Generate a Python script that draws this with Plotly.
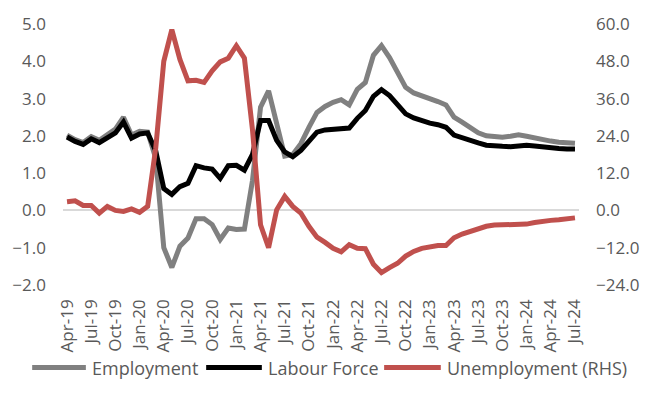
import pandas as pd
import plotly.graph_objects as go

months = pd.date_range("2019-04-01", "2024-07-01", freq="MS").strftime("%b-%y").tolist()

employment = [2.02, 1.90, 1.82, 1.98, 1.88, 2.02, 2.18, 2.50, 2.02, 2.12, 2.10,
              1.40, -1.00, -1.53, -0.96, -0.74, -0.22, -0.22, -0.38, -0.78, -0.47, -0.51,
              -0.50, 0.80, 2.77, 3.21, 2.28, 1.46, 1.50, 1.79, 2.23, 2.63, 2.79,
              2.90, 2.97, 2.83, 3.25, 3.43, 4.16, 4.42, 4.10, 3.70, 3.30, 3.15,
              3.08, 2.99, 2.92, 2.83, 2.50, 2.37, 2.23, 2.08, 2.00, 1.97, 1.96,
              1.99, 2.03, 1.99, 1.94, 1.90, 1.86, 1.83, 1.81, 1.80]

labour_force = [1.97, 1.85, 1.77, 1.92, 1.82, 1.94, 2.08, 2.37, 1.94, 2.05, 2.08,
                1.60, 0.59, 0.43, 0.64, 0.73, 1.20, 1.14, 1.11, 0.86, 1.20, 1.21,
                1.08, 1.50, 2.41, 2.41, 1.88, 1.57, 1.44, 1.61, 1.88, 2.10, 2.16,
                2.17, 2.19, 2.21, 2.47, 2.68, 3.06, 3.24, 3.08, 2.81, 2.59, 2.48,
                2.40, 2.34, 2.30, 2.23, 2.02, 1.94, 1.89, 1.81, 1.75, 1.72, 1.72,
                1.71, 1.73, 1.75, 1.73, 1.70, 1.68, 1.66, 1.65, 1.65]

unemployment = [2.8, 3.1, 1.6, 1.6, -0.85, 1.3, 0.0, -0.3, 0.5, -0.6, 1.3,
                20.0, 48.0, 58.2, 48.6, 41.7, 41.9, 41.2, 44.9, 47.8, 49.0, 53.0,
                49.0, 26.0, -4.6, -12.0, 0.2, 4.5, 1.3, -0.85, -5.1, -8.6, -10.3,
                -12.2, -13.3, -11.0, -12.2, -12.3, -17.3, -20.0, -18.4, -17.0, -14.7, -13.2,
                -12.2, -11.7, -11.3, -11.3, -8.8, -7.6, -6.7, -5.9, -5.1, -4.7, -4.6,
                -4.7, -4.8, -4.4, -3.9, -3.4, -3.2, -3.0, -2.7, -2.4]

tick_labels = months[::3]

series_names = ["Employment", "Labour Force", "Unemployment (RHS)"]
series_colors = ["#808080", "#000000", "#C0504D"]

FONT = "Open Sans"
TXT = "#595959"

fig = go.Figure()
fig.add_trace(go.Scatter(x=months, y=employment, name=series_names[0], mode="lines",
                         line=dict(color=series_colors[0], width=5)))
fig.add_trace(go.Scatter(x=months, y=labour_force, name=series_names[1], mode="lines",
                         line=dict(color=series_colors[1], width=5)))
fig.add_trace(go.Scatter(x=months, y=unemployment, name=series_names[2], mode="lines",
                         line=dict(color=series_colors[2], width=5), yaxis="y2"))

# Custom legend (Excel-style long line samples) in paper coordinates
W, H, L, B = 519.0, 263.2, 62.0, 284.7
leg_y = -(368 - B) / H
leg_items = [(31, 85, 89), (206, 262, 266), (385, 442, 446)]
shapes, annotations = [], []
for (x0, x1, xt), name, col in zip(leg_items, series_names, series_colors):
    shapes.append(dict(type="line", xref="paper", yref="paper",
                       x0=(x0 - L) / W, x1=(x1 - L) / W, y0=leg_y, y1=leg_y,
                       line=dict(color=col, width=5)))
    annotations.append(dict(xref="paper", yref="paper", x=(xt - L) / W, y=leg_y,
                            xanchor="left", yanchor="middle", text=name, showarrow=False,
                            font=dict(family=FONT, size=18, color=TXT)))

fig.update_layout(
    width=651, height=405,
    margin=dict(l=62, r=70, t=21.5, b=120.3),
    paper_bgcolor="white", plot_bgcolor="white",
    font=dict(family=FONT, size=17, color=TXT),
    showlegend=False,
    shapes=shapes, annotations=annotations,
    xaxis=dict(type="category", range=[-0.5, len(months) - 0.5],
               tickmode="array", tickvals=tick_labels, ticktext=tick_labels,
               tickangle=-90, showgrid=False, zeroline=False, showline=False,
               ticks="", ticklabelstandoff=10, tickfont=dict(size=17, color=TXT)),
    yaxis=dict(range=[-2, 5], dtick=1, tick0=0, tickformat=".1f", showgrid=False,
               zeroline=True, zerolinecolor="#D9D9D9", zerolinewidth=1.5,
               showline=False, ticks="", ticklabelstandoff=16,
               tickfont=dict(size=17, color=TXT)),
    yaxis2=dict(range=[-24, 60], dtick=12, tick0=0, tickformat=".1f", overlaying="y",
                side="right", showgrid=False, zeroline=False, showline=False, ticks="",
                ticklabelstandoff=16, tickfont=dict(size=17, color=TXT)),
)

fig.write_html("out.html")
